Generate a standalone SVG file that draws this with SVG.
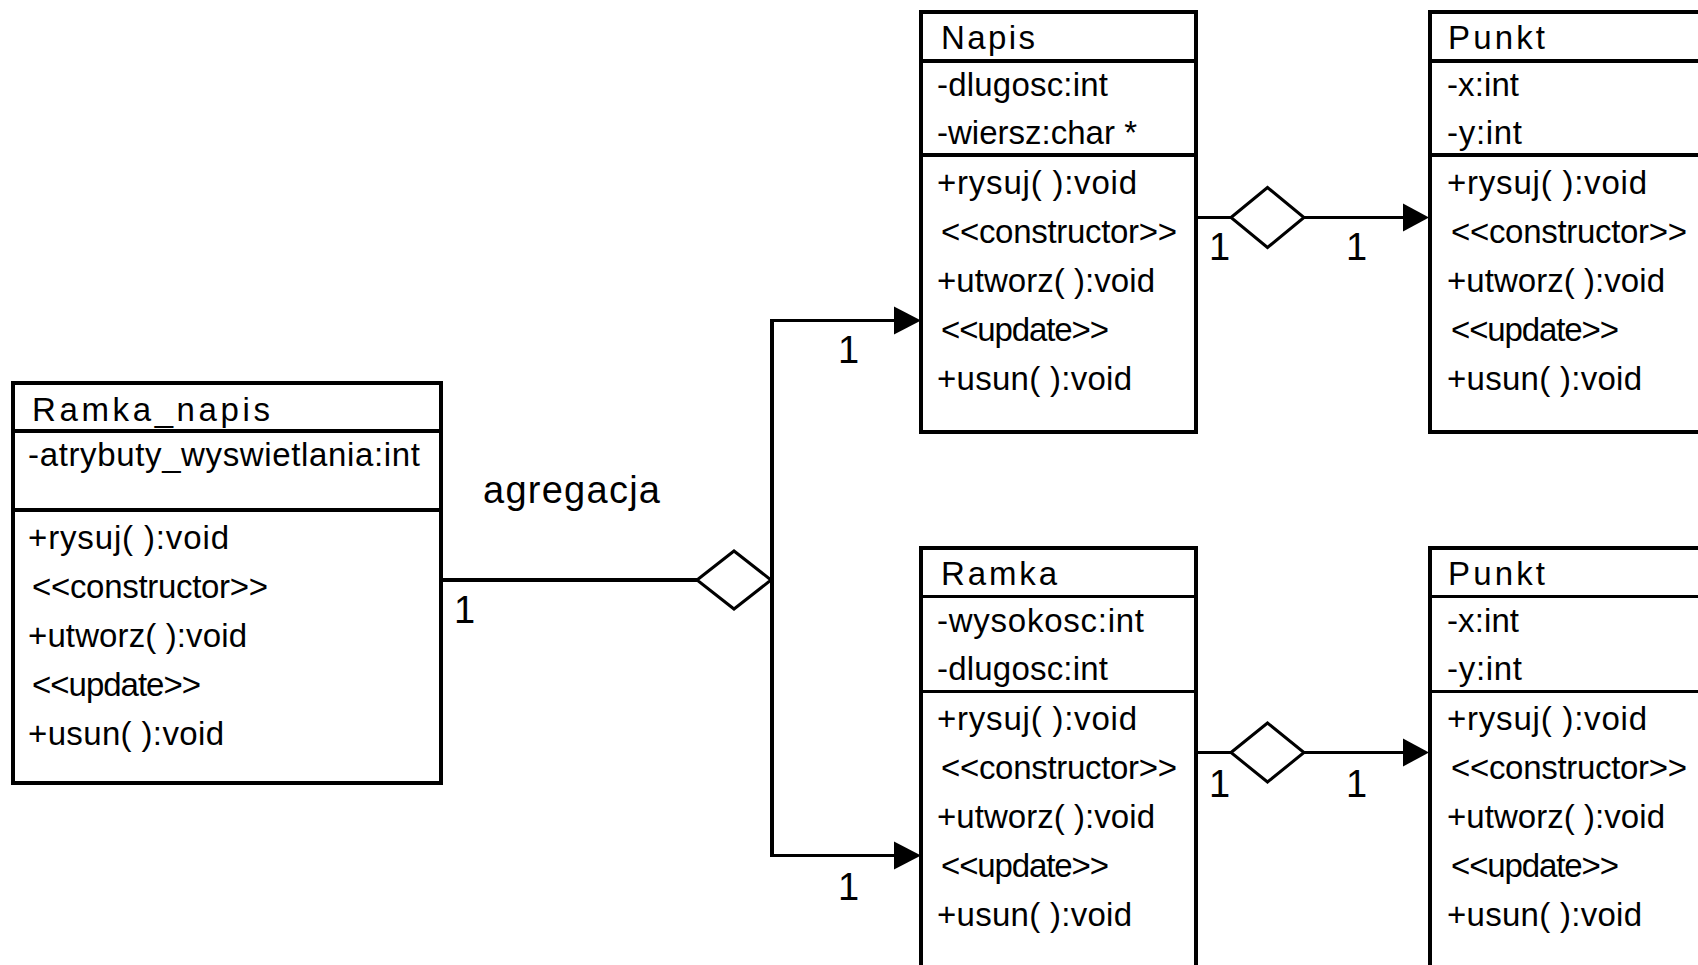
<svg xmlns="http://www.w3.org/2000/svg" width="1698" height="965" viewBox="0 0 1698 965">
  <style>
    .box { fill: #ffffff; stroke: #000000; stroke-width: 4; shape-rendering: crispEdges; }
    .sep { stroke: #000000; stroke-width: 3.5; shape-rendering: crispEdges; }
    .t { font-family: "Liberation Sans", Arial, sans-serif; font-size: 33px; fill: #000000; }
    .lbl { font-family: "Liberation Sans", Arial, sans-serif; font-size: 38px; fill: #000000; }
    .wire { fill: none; stroke: #000000; stroke-width: 3.5; shape-rendering: crispEdges; }
    .agg { fill: #ffffff; stroke: #000000; stroke-width: 3; }
    .head { fill: #000000; stroke: none; }
  </style>
  <rect x="0" y="0" width="1698" height="965" fill="#ffffff"/>

  <!-- Ramka_napis -->
  <g id="ramka_napis">
    <rect class="box" x="13" y="383" width="428" height="400"/>
    <line class="sep" x1="13" y1="431" x2="441" y2="431"/>
    <line class="sep" x1="13" y1="510" x2="441" y2="510"/>
    <text class="t" x="32" y="421" textLength="238">Ramka_napis</text>
    <text class="t" x="28" y="466" textLength="392">-atrybuty_wyswietlania:int</text>
    <text class="t" x="28" y="549" textLength="201">+rysuj( ):void</text>
    <text class="t" x="32" y="598" textLength="236">&lt;&lt;constructor&gt;&gt;</text>
    <text class="t" x="28" y="647" textLength="219">+utworz( ):void</text>
    <text class="t" x="32" y="696" textLength="169">&lt;&lt;update&gt;&gt;</text>
    <text class="t" x="28" y="745" textLength="196">+usun( ):void</text>
  </g>

  <!-- Napis -->
  <g id="napis">
    <rect class="box" x="921" y="12" width="275" height="420"/>
    <line class="sep" x1="921" y1="61" x2="1196" y2="61"/>
    <line class="sep" x1="921" y1="155" x2="1196" y2="155"/>
    <text class="t" x="941" y="49" textLength="94">Napis</text>
    <text class="t" x="937" y="96" textLength="171">-dlugosc:int</text>
    <text class="t" x="937" y="144" textLength="200">-wiersz:char *</text>
    <text class="t" x="937" y="194" textLength="200">+rysuj( ):void</text>
    <text class="t" x="941" y="243" textLength="236">&lt;&lt;constructor&gt;&gt;</text>
    <text class="t" x="937" y="292" textLength="218">+utworz( ):void</text>
    <text class="t" x="941" y="341" textLength="168">&lt;&lt;update&gt;&gt;</text>
    <text class="t" x="937" y="390" textLength="195">+usun( ):void</text>
  </g>

  <!-- Ramka -->
  <g id="ramka">
    <rect class="box" x="921" y="547.5" width="275" height="440"/>
    <line class="sep" x1="921" y1="596.5" x2="1196" y2="596.5"/>
    <line class="sep" x1="921" y1="691.5" x2="1196" y2="691.5"/>
    <text class="t" x="941" y="584.5" textLength="116">Ramka</text>
    <text class="t" x="937" y="631.5" textLength="207">-wysokosc:int</text>
    <text class="t" x="937" y="679.5" textLength="171">-dlugosc:int</text>
    <text class="t" x="937" y="729.5" textLength="200">+rysuj( ):void</text>
    <text class="t" x="941" y="778.5" textLength="236">&lt;&lt;constructor&gt;&gt;</text>
    <text class="t" x="937" y="827.5" textLength="218">+utworz( ):void</text>
    <text class="t" x="941" y="876.5" textLength="168">&lt;&lt;update&gt;&gt;</text>
    <text class="t" x="937" y="925.5" textLength="195">+usun( ):void</text>
  </g>

  <!-- Punkt (owned by Napis) -->
  <g id="punkt_napis">
    <rect class="box" x="1430" y="12" width="300" height="420"/>
    <line class="sep" x1="1430" y1="61" x2="1730" y2="61"/>
    <line class="sep" x1="1430" y1="155" x2="1730" y2="155"/>
    <text class="t" x="1448" y="49" textLength="97">Punkt</text>
    <text class="t" x="1447" y="96" textLength="72">-x:int</text>
    <text class="t" x="1447" y="144" textLength="75">-y:int</text>
    <text class="t" x="1447" y="194" textLength="200">+rysuj( ):void</text>
    <text class="t" x="1451" y="243" textLength="236">&lt;&lt;constructor&gt;&gt;</text>
    <text class="t" x="1447" y="292" textLength="218">+utworz( ):void</text>
    <text class="t" x="1451" y="341" textLength="168">&lt;&lt;update&gt;&gt;</text>
    <text class="t" x="1447" y="390" textLength="195">+usun( ):void</text>
  </g>

  <!-- Punkt (owned by Ramka) -->
  <g id="punkt_ramka">
    <rect class="box" x="1430" y="547.5" width="300" height="440"/>
    <line class="sep" x1="1430" y1="596.5" x2="1730" y2="596.5"/>
    <line class="sep" x1="1430" y1="691.5" x2="1730" y2="691.5"/>
    <text class="t" x="1448" y="584.5" textLength="97">Punkt</text>
    <text class="t" x="1447" y="631.5" textLength="72">-x:int</text>
    <text class="t" x="1447" y="679.5" textLength="75">-y:int</text>
    <text class="t" x="1447" y="729.5" textLength="200">+rysuj( ):void</text>
    <text class="t" x="1451" y="778.5" textLength="236">&lt;&lt;constructor&gt;&gt;</text>
    <text class="t" x="1447" y="827.5" textLength="218">+utworz( ):void</text>
    <text class="t" x="1451" y="876.5" textLength="168">&lt;&lt;update&gt;&gt;</text>
    <text class="t" x="1447" y="925.5" textLength="195">+usun( ):void</text>
  </g>

  <!-- Connectors: aggregations with navigable ends -->
  <g id="connectors">
    <!-- Ramka_napis aggregates Napis and Ramka -->
    <line class="wire" x1="441" y1="580" x2="697" y2="580"/>
    <polygon class="agg" points="697,580 734,551 771,580 734,609"/>
    <polyline class="wire" points="895,320.5 772,320.5 772,855.5 895,855.5"/>
    <polygon class="head" points="894,306.5 921,320.5 894,334.5"/>
    <polygon class="head" points="894,841.5 921,855.5 894,869.5"/>
    <text class="lbl" x="483" y="503" textLength="177">agregacja</text>
    <text class="lbl" x="454" y="623">1</text>
    <text class="lbl" x="838" y="363">1</text>
    <text class="lbl" x="838" y="900">1</text>

    <!-- Napis aggregates Punkt -->
    <line class="wire" x1="1196" y1="217.5" x2="1231" y2="217.5"/>
    <polygon class="agg" points="1231,217.5 1267.5,187.5 1304,217.5 1267.5,247.5"/>
    <line class="wire" x1="1304" y1="217.5" x2="1404" y2="217.5"/>
    <polygon class="head" points="1403,203.5 1429,217.5 1403,231.5"/>
    <text class="lbl" x="1209" y="260">1</text>
    <text class="lbl" x="1346" y="260">1</text>

    <!-- Ramka aggregates Punkt -->
    <line class="wire" x1="1196" y1="752.5" x2="1231" y2="752.5"/>
    <polygon class="agg" points="1231,752.5 1267.5,723 1304,752.5 1267.5,782"/>
    <line class="wire" x1="1304" y1="752.5" x2="1404" y2="752.5"/>
    <polygon class="head" points="1403,738.5 1429,752.5 1403,766.5"/>
    <text class="lbl" x="1209" y="797">1</text>
    <text class="lbl" x="1346" y="797">1</text>
  </g>
</svg>
